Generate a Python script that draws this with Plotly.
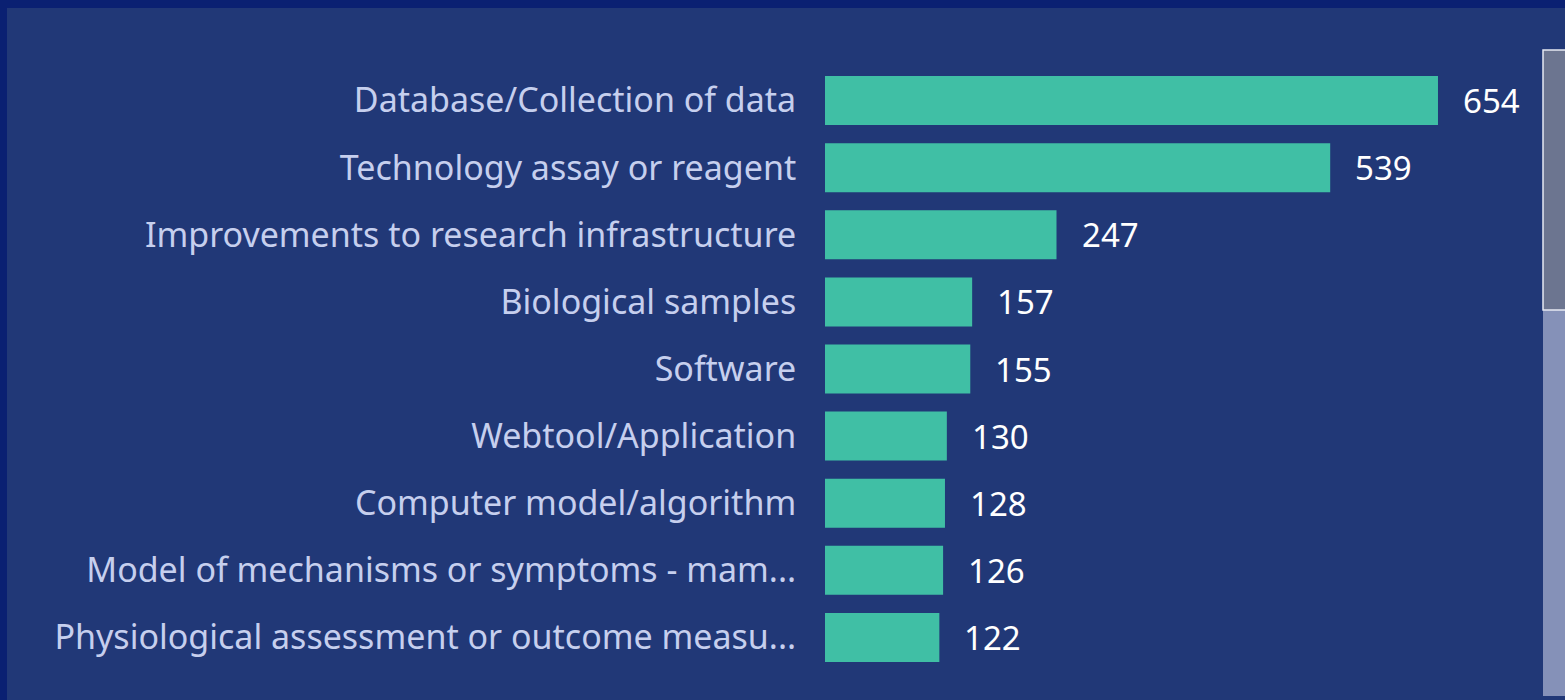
import plotly.graph_objects as go

categories = [
    "Database/Collection of data",
    "Technology assay or reagent",
    "Improvements to research infrastructure",
    "Biological samples",
    "Software",
    "Webtool/Application",
    "Computer model/algorithm",
    "Model of mechanisms or symptoms - mam...",
    "Physiological assessment or outcome measu...",
]
values = [654, 539, 247, 157, 155, 130, 128, 126, 122]

W, H = 1565, 700
ML, MR, MT, MB = 825, 25, 67, 29
PW, PH = W - ML - MR, H - MT - MB


def px_x(p):
    return (p - ML) / PW


def px_y(p):
    return (H - MB - p) / PH


BAR = "#40bfa5"
BG = "#213877"
NAVY = "#0a2072"
LABEL = "#c6cfee"
FONT = "Noto Sans, Open Sans, sans-serif"

fig = go.Figure(
    go.Bar(
        x=values,
        y=categories,
        orientation="h",
        marker=dict(color=BAR, line=dict(width=0)),
        width=0.73,
        hoverinfo="skip",
    )
)

for v, c in zip(values, categories):
    fig.add_annotation(
        x=v, y=c, text=str(v), showarrow=False, xanchor="left", xshift=23,
        font=dict(family=FONT, size=33, color="#ffffff"),
    )

shapes = [
    dict(type="rect", xref="paper", yref="paper", layer="below",
         x0=px_x(7), x1=px_x(W + 5), y0=px_y(8), y1=px_y(H + 5),
         fillcolor=BG, line=dict(width=0)),
    dict(type="rect", xref="paper", yref="paper",
         x0=px_x(1543), x1=px_x(1566), y0=px_y(310), y1=px_y(696),
         fillcolor="#8591b8", line=dict(width=0)),
    dict(type="rect", xref="paper", yref="paper",
         x0=px_x(1543), x1=px_x(1566), y0=px_y(50), y1=px_y(310),
         fillcolor="#6c7590", line=dict(width=1.5, color="#e6e9f2")),
]

fig.update_layout(
    width=W, height=H,
    margin=dict(l=ML, r=MR, t=MT, b=MB, pad=0),
    paper_bgcolor=NAVY,
    plot_bgcolor="rgba(0,0,0,0)",
    showlegend=False,
    shapes=shapes,
    bargap=0.27,
    xaxis=dict(range=[0, PW / 0.9373], visible=False, fixedrange=True),
    yaxis=dict(
        autorange="reversed", showgrid=False, zeroline=False, showline=False,
        ticks="outside", ticklen=21, tickcolor="rgba(0,0,0,0)",
        tickfont=dict(family=FONT, size=34, color=LABEL),
        automargin=False, fixedrange=True,
    ),
)

fig.write_html(
    "out.html",
    config={"displayModeBar": False},
    post_script="document.body.style.margin='0';document.body.style.background='#0a2072';document.body.style.overflow='hidden';",
)
